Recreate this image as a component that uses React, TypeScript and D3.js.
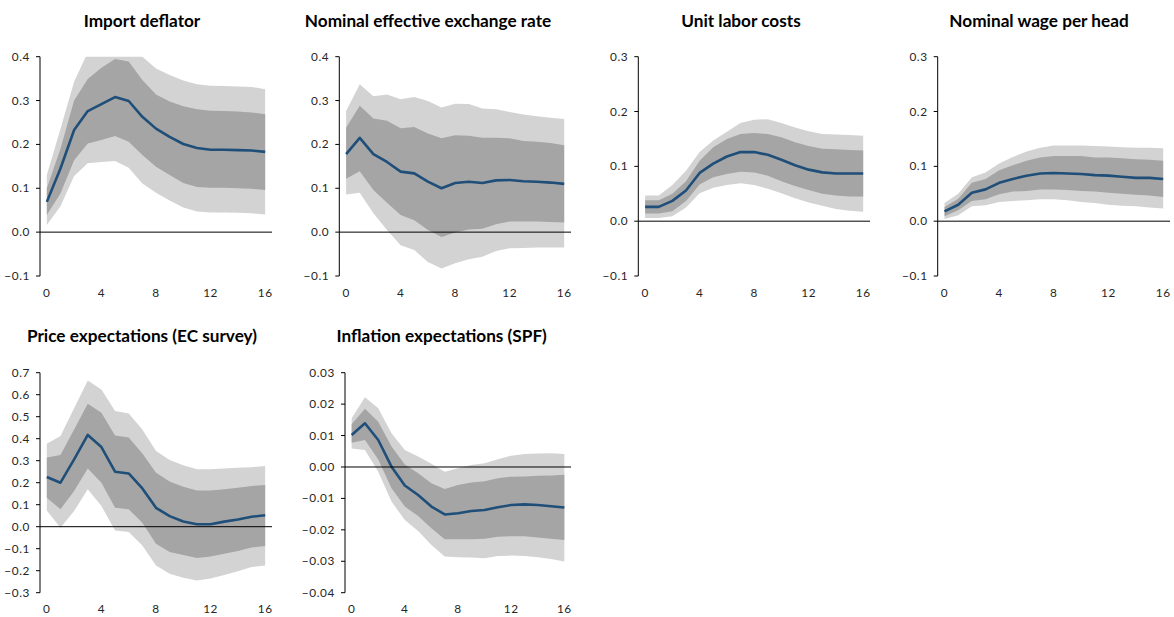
import React, { useEffect, useRef } from "react"
import * as d3 from "d3"

// horizons (quarters)
const horizons = [0, 1, 2, 3, 4, 5, 6, 7, 8, 9, 10, 11, 12, 13, 14, 15, 16]
const xTicks = [0, 4, 8, 12, 16]

// Import deflator
const impMed = [0.069, 0.145, 0.233, 0.276, 0.292, 0.308, 0.299, 0.263, 0.236, 0.217, 0.201, 0.192, 0.188, 0.188, 0.187, 0.186, 0.183]
const impHi68 = [0.10, 0.19, 0.30, 0.349, 0.375, 0.395, 0.389, 0.347, 0.314, 0.298, 0.287, 0.280, 0.277, 0.276, 0.275, 0.273, 0.269]
const impLo68 = [0.039, 0.088, 0.164, 0.202, 0.21, 0.219, 0.206, 0.176, 0.149, 0.130, 0.112, 0.103, 0.101, 0.101, 0.100, 0.099, 0.096]
const impHi90 = [0.13, 0.235, 0.343, 0.41, 0.44, 0.46, 0.45, 0.40, 0.373, 0.358, 0.346, 0.337, 0.334, 0.333, 0.332, 0.331, 0.326]
const impLo90 = [0.016, 0.059, 0.128, 0.157, 0.16, 0.162, 0.147, 0.111, 0.09, 0.072, 0.056, 0.047, 0.045, 0.045, 0.044, 0.043, 0.040]

// Nominal effective exchange rate
const neerMed = [0.178, 0.215, 0.178, 0.160, 0.138, 0.134, 0.115, 0.100, 0.112, 0.115, 0.112, 0.118, 0.119, 0.116, 0.115, 0.113, 0.110]
const neerHi68 = [0.238, 0.288, 0.259, 0.254, 0.237, 0.240, 0.225, 0.214, 0.221, 0.220, 0.215, 0.215, 0.214, 0.208, 0.206, 0.203, 0.198]
const neerLo68 = [0.122, 0.139, 0.096, 0.067, 0.039, 0.027, 0.005, -0.011, -0.001, 0.006, 0.008, 0.018, 0.024, 0.024, 0.024, 0.023, 0.022]
const neerHi90 = [0.276, 0.337, 0.31, 0.314, 0.303, 0.308, 0.299, 0.284, 0.293, 0.292, 0.282, 0.280, 0.274, 0.268, 0.264, 0.261, 0.258]
const neerLo90 = [0.086, 0.090, 0.043, 0.005, -0.030, -0.041, -0.068, -0.083, -0.071, -0.062, -0.056, -0.043, -0.037, -0.036, -0.035, -0.035, -0.035]

// Unit labor costs
const ulcMed = [0.026, 0.026, 0.037, 0.056, 0.088, 0.105, 0.118, 0.126, 0.126, 0.121, 0.112, 0.102, 0.094, 0.089, 0.087, 0.087, 0.087]
const ulcHi68 = [0.038, 0.038, 0.05, 0.073, 0.110, 0.135, 0.150, 0.159, 0.161, 0.159, 0.153, 0.144, 0.137, 0.132, 0.131, 0.130, 0.129]
const ulcLo68 = [0.014, 0.014, 0.018, 0.037, 0.067, 0.080, 0.086, 0.090, 0.089, 0.083, 0.073, 0.064, 0.057, 0.050, 0.047, 0.045, 0.045]
const ulcHi90 = [0.047, 0.047, 0.066, 0.092, 0.126, 0.147, 0.163, 0.179, 0.185, 0.186, 0.179, 0.171, 0.164, 0.159, 0.158, 0.157, 0.156]
const ulcLo90 = [0.006, 0.006, 0.009, 0.025, 0.051, 0.061, 0.066, 0.069, 0.066, 0.059, 0.051, 0.042, 0.034, 0.028, 0.022, 0.019, 0.017]

// Nominal wage per head
const wageMed = [0.018, 0.030, 0.052, 0.058, 0.070, 0.077, 0.083, 0.087, 0.088, 0.087, 0.086, 0.084, 0.083, 0.081, 0.079, 0.079, 0.077]
const wageHi68 = [0.026, 0.041, 0.070, 0.077, 0.093, 0.102, 0.110, 0.116, 0.119, 0.119, 0.119, 0.116, 0.116, 0.115, 0.113, 0.112, 0.110]
const wageLo68 = [0.009, 0.020, 0.037, 0.040, 0.049, 0.054, 0.055, 0.058, 0.058, 0.057, 0.055, 0.054, 0.052, 0.050, 0.048, 0.047, 0.044]
const wageHi90 = [0.033, 0.050, 0.080, 0.089, 0.105, 0.117, 0.127, 0.134, 0.138, 0.138, 0.138, 0.137, 0.136, 0.135, 0.134, 0.134, 0.133]
const wageLo90 = [0.004, 0.011, 0.027, 0.029, 0.035, 0.037, 0.038, 0.040, 0.040, 0.038, 0.035, 0.033, 0.030, 0.028, 0.027, 0.025, 0.023]

// Price expectations (EC survey)
const ecMed = [0.226, 0.20, 0.306, 0.417, 0.362, 0.25, 0.242, 0.174, 0.086, 0.048, 0.024, 0.011, 0.011, 0.023, 0.033, 0.045, 0.052]
const ecHi68 = [0.314, 0.326, 0.442, 0.559, 0.518, 0.415, 0.405, 0.333, 0.245, 0.205, 0.182, 0.165, 0.165, 0.17, 0.177, 0.185, 0.189]
const ecLo68 = [0.132, 0.079, 0.162, 0.264, 0.2, 0.086, 0.079, 0.018, -0.077, -0.115, -0.129, -0.142, -0.136, -0.123, -0.111, -0.095, -0.088]
const ecHi90 = [0.377, 0.412, 0.538, 0.665, 0.624, 0.526, 0.514, 0.442, 0.344, 0.303, 0.279, 0.261, 0.261, 0.265, 0.268, 0.27, 0.276]
const ecLo90 = [0.074, -0.005, 0.071, 0.17, 0.094, -0.017, -0.024, -0.085, -0.176, -0.214, -0.232, -0.244, -0.236, -0.22, -0.202, -0.183, -0.176]

// Inflation expectations (SPF)
const spfMed = [0.0102, 0.0139, 0.0086, 0.0001, -0.0059, -0.0089, -0.0126, -0.0151, -0.0147, -0.014, -0.0137, -0.0128, -0.0121, -0.0119, -0.0121, -0.0125, -0.0129]
const spfHi68 = [0.0136, 0.0185, 0.0144, 0.0065, 0.0008, -0.002, -0.0052, -0.007, -0.0057, -0.0049, -0.0045, -0.0036, -0.0031, -0.003, -0.0028, -0.0027, -0.0025]
const spfLo68 = [0.0077, 0.0086, 0.0024, -0.0068, -0.0126, -0.0156, -0.0195, -0.023, -0.023, -0.023, -0.0228, -0.0222, -0.022, -0.022, -0.0224, -0.0228, -0.0232]
const spfHi90 = [0.0155, 0.0222, 0.0187, 0.0107, 0.0054, 0.0033, 0.001, -0.0015, -0.0004, 0.0006, 0.0012, 0.0025, 0.0036, 0.0041, 0.0043, 0.0044, 0.0041]
const spfLo90 = [0.0059, 0.0054, -0.0015, -0.011, -0.0169, -0.0204, -0.0248, -0.0285, -0.0287, -0.0288, -0.029, -0.0283, -0.0282, -0.0283, -0.0287, -0.0293, -0.0301]

const panels = [
  { title: "Import deflator", med: impMed, hi68: impHi68, lo68: impLo68, hi90: impHi90, lo90: impLo90, yMin: -0.1, yMax: 0.4, step: 0.1, fmt: ".1f", left: 40, right: 272, top: 56.7, bottom: 276, titleX: 142, titleY: 26.5 },
  { title: "Nominal effective exchange rate", med: neerMed, hi68: neerHi68, lo68: neerLo68, hi90: neerHi90, lo90: neerLo90, yMin: -0.1, yMax: 0.4, step: 0.1, fmt: ".1f", left: 339.3, right: 571, top: 56.7, bottom: 276, titleX: 428, titleY: 26.5 },
  { title: "Unit labor costs", med: ulcMed, hi68: ulcHi68, lo68: ulcLo68, hi90: ulcHi90, lo90: ulcLo90, yMin: -0.1, yMax: 0.3, step: 0.1, fmt: ".1f", left: 638.3, right: 870, top: 56.7, bottom: 276, titleX: 741, titleY: 26.5 },
  { title: "Nominal wage per head", med: wageMed, hi68: wageHi68, lo68: wageLo68, hi90: wageHi90, lo90: wageLo90, yMin: -0.1, yMax: 0.3, step: 0.1, fmt: ".1f", left: 937.7, right: 1170, top: 56.7, bottom: 276, titleX: 1039, titleY: 26.5 },
  { title: "Price expectations (EC survey)", med: ecMed, hi68: ecHi68, lo68: ecLo68, hi90: ecHi90, lo90: ecLo90, yMin: -0.3, yMax: 0.7, step: 0.1, fmt: ".1f", left: 40, right: 272, top: 372.7, bottom: 592.7, titleX: 142, titleY: 342 },
  { title: "Inflation expectations (SPF)", med: spfMed, hi68: spfHi68, lo68: spfLo68, hi90: spfHi90, lo90: spfLo90, yMin: -0.04, yMax: 0.03, step: 0.01, fmt: ".2f", left: 345, right: 571, top: 372.7, bottom: 592.7, titleX: 441.7, titleY: 342 },
]

const FONT = "Lato, 'Open Sans', sans-serif"

export default function App() {
  const ref = useRef<SVGSVGElement>(null)

  useEffect(() => {
    const svg = d3.select(ref.current)
    svg.selectAll("*").remove()
    const defs = svg.append("defs")

    panels.forEach((p, pi) => {
      const x = d3.scalePoint<number>().domain(horizons).range([p.left, p.right]).padding(0.5)
      const y = d3.scaleLinear().domain([p.yMin, p.yMax]).range([p.bottom, p.top])
      const g = svg.append("g")

      defs.append("clipPath").attr("id", "clip" + pi)
        .append("rect")
        .attr("x", p.left).attr("y", p.top)
        .attr("width", p.right - p.left).attr("height", p.bottom - p.top)

      const band = (hi: number[], lo: number[]) =>
        d3.area<number>()
          .x(d => x(d) as number)
          .y0(d => y(lo[d]))
          .y1(d => y(hi[d]))(horizons)

      const plot = g.append("g").attr("clip-path", `url(#clip${pi})`)
      plot.append("path").attr("d", band(p.hi90, p.lo90)).attr("fill", "#d3d3d3")
      plot.append("path").attr("d", band(p.hi68, p.lo68)).attr("fill", "#a5a5a5")

      // zero line
      g.append("line")
        .attr("x1", p.left).attr("x2", p.right)
        .attr("y1", y(0)).attr("y2", y(0))
        .attr("stroke", "#000").attr("stroke-width", 1)

      const line = d3.line<number>()
        .x(d => x(d) as number)
        .y(d => y(p.med[d]))
      plot.append("path").attr("d", line(horizons))
        .attr("fill", "none").attr("stroke", "#1f4e79")
        .attr("stroke-width", 2.6).attr("stroke-linejoin", "round")

      // y axis line + small outside ticks
      g.append("line")
        .attr("x1", p.left).attr("x2", p.left)
        .attr("y1", p.top).attr("y2", p.bottom)
        .attr("stroke", "#000").attr("stroke-width", 1)

      const yTicks = d3.range(Math.round((p.yMax - p.yMin) / p.step) + 1).map(i => p.yMin + i * p.step)
      const fmt = d3.format(p.fmt)
      g.selectAll(".ytm").data(yTicks).enter().append("line")
        .attr("x1", p.left - 4).attr("x2", p.left)
        .attr("y1", d => y(d)).attr("y2", d => y(d))
        .attr("stroke", "#000").attr("stroke-width", 1)
      g.selectAll(".yt").data(yTicks).enter().append("text")
        .attr("x", p.left - 10).attr("y", d => y(d) + 4)
        .attr("text-anchor", "end")
        .attr("font-family", FONT).attr("font-size", 11.8).attr("letter-spacing", 0.6)
        .attr("fill", "#262626")
        .text(d => fmt(Math.abs(d) < 1e-9 ? 0 : d))

      g.selectAll(".xt").data(xTicks).enter().append("text")
        .attr("x", d => x(d) as number).attr("y", p.bottom + 20.5)
        .attr("text-anchor", "middle")
        .attr("font-family", FONT).attr("font-size", 11.8).attr("letter-spacing", 0.6)
        .attr("fill", "#262626")
        .text(d => d)

      g.append("text")
        .attr("x", p.titleX).attr("y", p.titleY)
        .attr("text-anchor", "middle")
        .attr("font-family", FONT).attr("font-weight", "bold").attr("font-size", 17.2)
        .attr("fill", "#000")
        .text(p.title)
    })
  }, [])

  return (
    <svg ref={ref} width={1174} height={617}
      style={{ position: "absolute", left: 0, top: 0, background: "#fff" }} />
  )
}
